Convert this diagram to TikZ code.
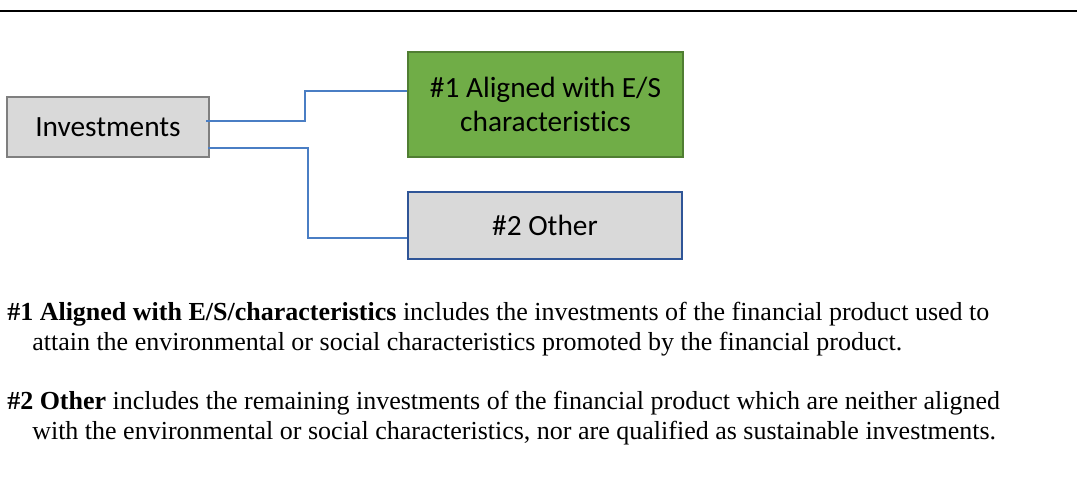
\documentclass[tikz,border=0pt]{standalone}
\usepackage{fontspec}
\setmainfont{Liberation Serif}
\newfontfamily\calibri[Ligatures=NoCommon]{Carlito}
\begin{document}
\begin{tikzpicture}[x=0.75pt, y=-0.75pt]

  % Define Colors
  \definecolor{boxgray}{HTML}{D9D9D9}
  \definecolor{boxedge}{HTML}{7F7F7F}
  \definecolor{esgreen}{HTML}{70AD47}
  \definecolor{esedge}{HTML}{507E32}
  \definecolor{otheredge}{HTML}{2F5597}
  \definecolor{linkblue}{HTML}{4A7EC4}

  % Node styles
  \tikzstyle{gbox}=[rectangle, draw=boxedge, line width=1.5pt, fill=boxgray, inner sep=0pt, align=center, font=\calibri\fontsize{22}{25.5}\selectfont]
  \tikzstyle{ebox}=[gbox, draw=esedge, fill=esgreen]
  \tikzstyle{obox}=[gbox, draw=otheredge]
  \tikzstyle{link}=[line width=1.5pt, linkblue]
  \tikzstyle{para}=[anchor=north west, inner sep=0pt, align=left, font=\fontsize{19.5}{22.5}\selectfont]

  \useasboundingbox (0,0) rectangle (1077,479);

  % Rule
  \draw[line width=1.9pt] (0,11) -- (1077,11);

  % Nodes
  \node[gbox, minimum width=151.5pt, minimum height=45pt] (inv) at (108,127) {Investments};
  \node[ebox, minimum width=206.25pt, minimum height=78.75pt] (aligned) at (545.5,104.5) {\#1 Aligned with E/S\\characteristics};
  \node[obox, minimum width=205.5pt, minimum height=50.25pt] (other) at (545,225.5) {\#2 Other};

  % links
  \draw[link] ([xshift=-3pt, yshift=4.5pt]inv.east) -- ++(99,0) |- ([yshift=10.1pt]aligned.west);
  \draw[link] ([xshift=-1.5pt, yshift=-15.75pt]inv.east) -- ++(100,0) |- ([yshift=-9.4pt]other.west);

  % Notes
  \node[para] (note1) at (7,302) {\textbf{\#1 Aligned with E/S/characteristics} includes the investments of the financial product used to\\
    \hspace*{18.75pt}attain the environmental or social characteristics promoted by the financial product.};
  \node[para] (note2) at (7,391) {\textbf{\#2 Other} includes the remaining investments of the financial product which are neither aligned\\
    \hspace*{18.75pt}with the environmental or social characteristics, nor are qualified as sustainable investments.};

\end{tikzpicture}
\end{document}
